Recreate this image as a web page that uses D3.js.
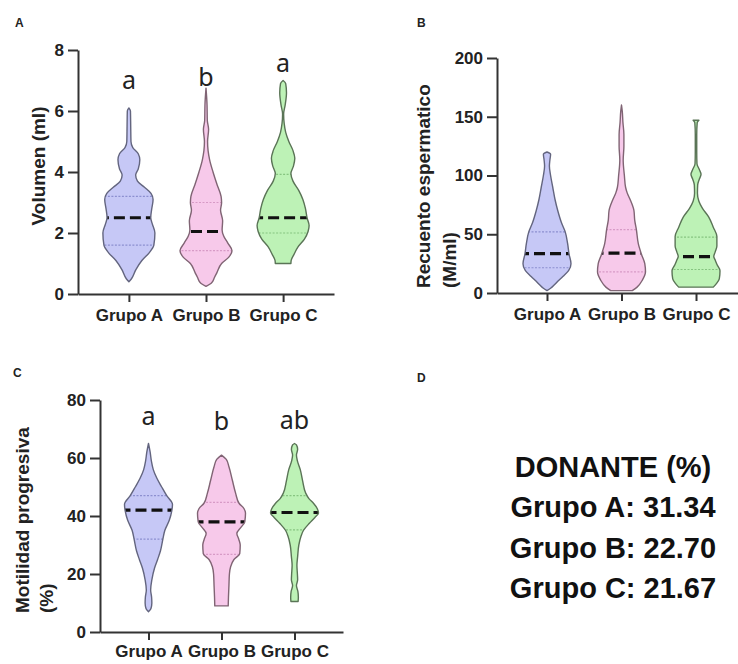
<!DOCTYPE html>
<html>
<head>
<meta charset="UTF-8">
<style>
  body { margin: 0; background: #fff; }
  svg { display: block; }
  .axis path, .axis line { stroke: #333; stroke-width: 2; }
  .axis text { font-family: "Liberation Sans", Arial, sans-serif; font-weight: bold; font-size: 17px; fill: #222; }
  .xaxis text { font-size: 17px; }
  .title { font-family: "Liberation Sans", Arial, sans-serif; font-weight: bold; font-size: 19px; fill: #222; }
  .panel { font-family: "Liberation Sans", Arial, sans-serif; font-weight: bold; font-size: 12px; fill: #222; }
  .sig { font-family: "Noto Sans", sans-serif; font-size: 25px; fill: #222; }
  .donante { font-family: "Liberation Sans", Arial, sans-serif; font-weight: bold; font-size: 29px; fill: #111; }
</style>
</head>
<body>
<svg id="chart" width="738" height="664"></svg>
<script src="https://d3js.org/d3.v7.min.js"></script>
<script>
// categories
const groups = ["Grupo A", "Grupo B", "Grupo C"];

// violin outlines: [value, relative density 0..1]
const volProfiles = [
  [[0.4,0],[0.5,0.1],[0.8,0.27],[1.1,0.5],[1.35,0.78],[1.6,0.96],[2.0,1.0],[2.3,0.9],[2.5,0.84],[2.8,0.88],[3.1,0.93],[3.3,0.85],[3.5,0.6],[3.7,0.33],[3.9,0.26],[4.1,0.36],[4.4,0.42],[4.6,0.36],[4.8,0.15],[5.0,0.08],[5.5,0.07],[6.0,0.06],[6.1,0]],
  [[0.25,0],[0.35,0.2],[0.55,0.33],[0.7,0.42],[1.0,0.6],[1.2,0.87],[1.42,1.0],[1.67,0.84],[1.9,0.68],[2.1,0.62],[2.4,0.64],[2.75,0.56],[3.0,0.6],[3.2,0.58],[3.6,0.42],[4.0,0.27],[4.4,0.14],[4.7,0.08],[5.0,0.06],[5.4,0.1],[5.7,0.05],[6.2,0.04],[6.75,0]],
  [[1.0,0.3],[1.1,0.31],[1.3,0.42],[1.55,0.58],[1.8,0.82],[2.05,0.96],[2.25,1.0],[2.5,0.92],[2.8,0.86],[3.1,0.76],[3.4,0.6],[3.7,0.38],[3.95,0.3],[4.2,0.4],[4.45,0.45],[4.7,0.38],[5.0,0.22],[5.3,0.1],[5.6,0.04],[5.9,0.02],[6.2,0.08],[6.6,0.13],[6.9,0.1],[7.0,0]]
];
const volQuartiles = [[1.6, 2.5, 3.2], [1.42, 2.05, 3.0], [2.0, 2.5, 3.92]];
const volLetters = ["a", "b", "a"];
const volLetterY = [6.72, 6.82, 7.28];
const volTicks = [0, 2, 4, 6, 8];

const countProfiles = [
  [[2,0],[4,0.15],[7,0.31],[10,0.45],[14,0.66],[19,0.9],[25,1.0],[33,0.92],[42,0.86],[52,0.76],[60,0.6],[70,0.45],[80,0.33],[90,0.24],[100,0.15],[108,0.1],[113,0.12],[118,0.15],[120,0]],
  [[2,0.45],[5,0.65],[11,0.87],[18,1.0],[25,0.97],[33,0.83],[42,0.7],[54,0.62],[62,0.55],[70,0.52],[80,0.35],[85,0.24],[90,0.17],[100,0.12],[113,0.07],[125,0.1],[135,0.1],[145,0.06],[155,0.03],[160,0]],
  [[5,0.72],[8,0.85],[12,0.97],[19,1.0],[24,0.88],[28,0.8],[31,0.74],[35,0.8],[40,0.87],[48,0.87],[56,0.72],[65,0.52],[72,0.27],[78,0.12],[85,0.06],[92,0.07],[97,0.14],[101,0.21],[105,0.14],[110,0.04],[120,0.03],[135,0.03],[145,0.05],[147,0.12]]
];
const countQuartiles = [[21.5, 33.5, 52], [18, 34, 54], [20, 31, 47.5]];
const countTicks = [0, 50, 100, 150, 200];

const motProfiles = [
  [[7,0],[8,0.1],[10,0.14],[12,0.13],[14.5,0.09],[18,0.14],[22,0.25],[25,0.38],[28,0.5],[32,0.6],[35,0.68],[38.6,0.87],[41.8,0.97],[44,1.0],[47,0.76],[50,0.55],[53,0.35],[56,0.2],[59,0.12],[62,0.07],[65,0]],
  [[9,0.28],[12,0.29],[16,0.31],[20,0.33],[22.5,0.38],[25,0.52],[27,0.76],[30,0.78],[32,0.72],[34,0.64],[36,0.8],[38,0.97],[41,1.0],[42.5,0.94],[44.4,0.73],[47.8,0.59],[52.4,0.45],[57,0.31],[59.5,0.2],[61,0]],
  [[10.5,0.15],[12,0.16],[14,0.14],[16,0.08],[18,0.13],[20,0.12],[23,0.1],[26,0.13],[30,0.18],[33,0.27],[35,0.37],[37.5,0.62],[39.5,0.85],[41,1.0],[42.5,0.95],[44.4,0.79],[46,0.6],[48,0.46],[52,0.34],[56,0.24],[59,0.12],[61,0.08],[63,0.13],[64.5,0.08],[65,0]]
];
const motQuartiles = [[32, 42, 47], [26.8, 38, 44.7], [35.2, 41.2, 47]];
const motLetters = ["a", "b", "ab"];
const motLetterY = [71.4, 69.7, 70];
const motTicks = [0, 20, 40, 60, 80];

const donante = [31.34, 22.70, 21.67];

// styles
const fills = ["#c6c8f6", "#f7c9ea", "#bdf2b6"];
const edges = ["#63657f", "#806474", "#5a7456"];
const qColors = ["#8c8fd0", "#d79ac6", "#86c480"];

const svg = d3.select("#chart");
let clipId = 0;

function violinPanel(cfg) {
  const y = d3.scaleLinear().domain([0, cfg.max]).range([cfg.bottom, cfg.top]);
  const x = d3.scalePoint().domain(groups).range([cfg.left, cfg.right]).padding(cfg.pad);
  const w = d3.scaleLinear().domain([0, 1]).range([0, cfg.half]);
  const g = svg.append("g");

  groups.forEach((grp, i) => {
    const cx = x(grp);
    const area = d3.area().curve(d3.curveMonotoneY)
      .y(d => y(d[0]))
      .x0(d => cx - w(d[1]))
      .x1(d => cx + w(d[1]));
    const d = area(cfg.profiles[i]);
    const id = "clip" + (clipId++);
    g.append("clipPath").attr("id", id).append("path").attr("d", d);

    g.append("path").attr("d", d)
      .attr("fill", fills[i]);

    const q = cfg.quartiles[i];
    const lines = g.append("g").attr("clip-path", "url(#" + id + ")");
    [q[0], q[2]].forEach(v => {
      lines.append("line")
        .attr("x1", cx - cfg.half - 2).attr("x2", cx + cfg.half + 2)
        .attr("y1", y(v)).attr("y2", y(v))
        .attr("stroke", qColors[i]).attr("stroke-width", 1.2)
        .attr("stroke-dasharray", "2,1.5");
    });
    lines.append("line")
      .attr("x1", cx - cfg.half - 2).attr("x2", cx + cfg.half + 2)
      .attr("y1", y(q[1])).attr("y2", y(q[1]))
      .attr("stroke", "#111").attr("stroke-width", 3.2)
      .attr("stroke-dasharray", "11,5")
      .attr("stroke-dashoffset", 3);

    g.append("path").attr("d", d)
      .attr("fill", "none")
      .attr("stroke", edges[i]).attr("stroke-width", 1.4)
      .attr("stroke-linejoin", "round");

    if (cfg.letters) {
      g.append("text").attr("class", "sig")
        .attr("x", cx).attr("y", y(cfg.letterY[i]))
        .attr("text-anchor", "middle")
        .text(cfg.letters[i]);
    }
  });

  g.append("g").attr("class", "axis")
    .attr("transform", "translate(" + cfg.left + ",0)")
    .call(d3.axisLeft(y).tickValues(cfg.ticks).tickSize(10).tickPadding(4).tickSizeOuter(0));

  g.append("g").attr("class", "axis xaxis")
    .attr("transform", "translate(0," + cfg.bottom + ")")
    .call(d3.axisBottom(x).tickSize(8).tickPadding(cfg.xpad).tickSizeOuter(0));

  const t = g.append("text").attr("class", "title")
    .attr("transform", "translate(" + cfg.titleX + "," + cfg.titleY + ") rotate(-90)")
    .attr("text-anchor", cfg.titleAnchor);
  cfg.title.forEach((line, k) => {
    t.append("tspan").attr("x", 0).attr("dy", k === 0 ? 0 : cfg.titleLead).text(line);
  });
}

violinPanel({
  profiles: volProfiles, quartiles: volQuartiles, ticks: volTicks, max: 8,
  letters: volLetters, letterY: volLetterY,
  top: 50, bottom: 294, left: 78, right: 334, pad: 0.66, half: 26, xpad: 7,
  title: ["Volumen (ml)"], titleX: 45, titleY: 166, titleAnchor: "middle", titleLead: 0
});

violinPanel({
  profiles: countProfiles, quartiles: countQuartiles, ticks: countTicks, max: 200,
  top: 58, bottom: 293, left: 497, right: 746, pad: 0.671, half: 24, xpad: 7,
  title: ["Recuento espermatico", "(M/ml)"], titleX: 430, titleY: 288, titleAnchor: "start", titleLead: 26
});

violinPanel({
  profiles: motProfiles, quartiles: motQuartiles, ticks: motTicks, max: 80,
  letters: motLetters, letterY: motLetterY,
  top: 400, bottom: 632, left: 100, right: 343, pad: 0.664, half: 24, xpad: 5,
  title: ["Motilidad progresiva", "(%)"], titleX: 29, titleY: 613, titleAnchor: "start", titleLead: 24
});

// panel letters
const panelLabels = [["A", 15, 27], ["B", 417, 27], ["C", 13, 377], ["D", 417, 382]];
svg.selectAll(".panel").data(panelLabels).enter().append("text")
  .attr("class", "panel")
  .attr("x", d => d[1]).attr("y", d => d[2])
  .text(d => d[0]);

// panel D
const rows = ["title"].concat(groups);
const rowY = d3.scalePoint().domain(rows).range([477, 598]);
const fmt = d3.format(".2f");
svg.selectAll(".donante").data(rows).enter().append("text")
  .attr("class", "donante")
  .attr("x", 613).attr("y", d => rowY(d))
  .attr("text-anchor", "middle")
  .text((d, i) => i === 0 ? "DONANTE (%)" : d + ": " + fmt(donante[i - 1]));
</script>
</body>
</html>
